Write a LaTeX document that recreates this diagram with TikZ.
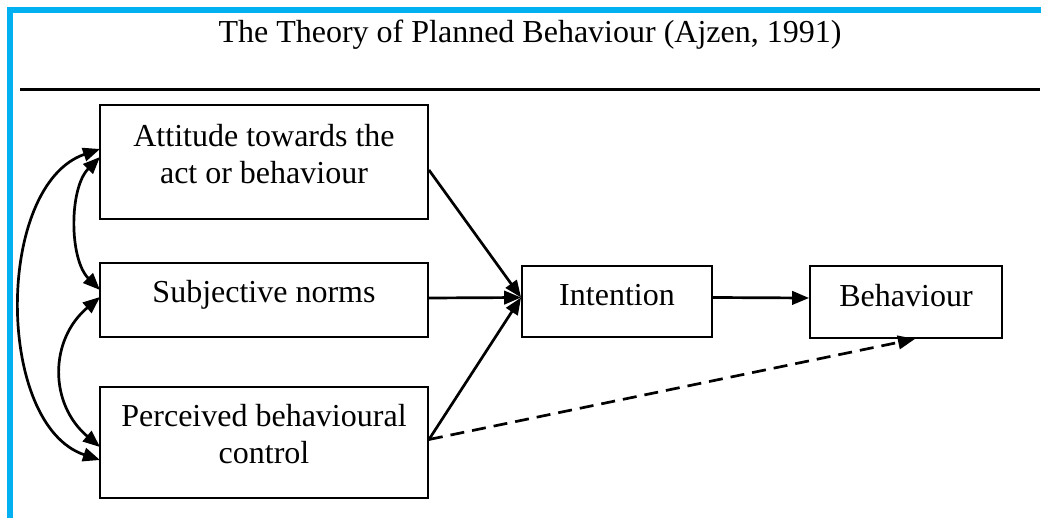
\documentclass[tikz,border=0pt]{standalone}
\usepackage{fontspec}
\setmainfont{Liberation Serif}
\usetikzlibrary{arrows.meta}
\definecolor{frameblue}{HTML}{00B0F0}
\begin{document}
\begin{tikzpicture}[x=1pt,y=-1pt,
  box/.style={draw,line width=1.9pt,inner sep=0pt},
  lbl/.style={align=center,font=\fontsize{32}{37}\selectfont,inner sep=0pt},
  tip/.style={Triangle[length=17pt,width=13.5pt]},
  link/.style={line width=2.7pt,-{Triangle[length=17pt,width=13.5pt]}},
  both/.style={line width=2.7pt,{Triangle[length=17pt,width=13.5pt]}-{Triangle[length=17pt,width=13.5pt]}}]
  \useasboundingbox (0,0) rectangle (1041,518);
  % frame along top and left edges
  \fill[frameblue] (7,7) rectangle (1041,13);
  \fill[frameblue] (7,7) rectangle (13,518);
  % heading and rule
  \node[lbl,anchor=base] (title) at (530,43) {The Theory of Planned Behaviour (Ajzen, 1991)};
  \draw[line width=2.6pt] (20,89.5) coordinate (ruleL) -- (1040,89.5) coordinate (ruleR);
  % boxes
  \node[box,minimum width=328pt,minimum height=114pt] (att) at (264,162) {};
  \node[box,minimum width=328pt,minimum height=74pt] (sub) at (264,300) {};
  \node[box,minimum width=328pt,minimum height=111pt] (per) at (264,442.5) {};
  \node[box,minimum width=190pt,minimum height=71pt] (int) at (617,301.5) {};
  \node[box,minimum width=192pt,minimum height=72pt] (beh) at (906,302) {};
  % box texts
  \node[lbl] (attT) at ([yshift=8pt]att.center) {Attitude towards the\\act or behaviour};
  \node[lbl] (subT) at ([yshift=5pt]sub.center) {Subjective norms};
  \node[lbl] (perT) at ([yshift=8pt]per.center) {Perceived behavioural\\control};
  \node[lbl] (intT) at ([yshift=6pt]int.center) {Intention};
  \node[lbl] (behT) at ([yshift=6pt]beh.center) {Behaviour};
  % connection points
  \coordinate (attOut) at ([yshift=-8pt]att.east);
  \coordinate (perOut) at ([yshift=3pt]per.east);
  \coordinate (intIn) at ([yshift=4pt]int.west);
  \coordinate (behIn) at ([xshift=9pt]beh.south);
  % paths into Intention and Behaviour
  \draw[link] (attOut) -- (intIn);
  \draw[link] ([yshift=2pt]sub.east) -- (intIn);
  \draw[link] (perOut) -- (intIn);
  \draw[link] ([yshift=4pt]int.east) -- ([yshift=4pt]beh.west);
  \draw[link,dash pattern=on 14pt off 8pt] (perOut) -- (behIn);
  % correlations between the three antecedents
  \coordinate (a1) at (100,149);
  \coordinate (a2) at (100,157);
  \coordinate (s1) at (100,290);
  \coordinate (s2) at (100,297);
  \coordinate (p1) at (100,447);
  \coordinate (p2) at (100,460);
  \draw[both] (a1) .. controls (-5,185) and (-5,425) .. (p2);
  \draw[both] (a2) .. controls (69,188) and (69,259) .. (s1);
  \draw[both] (s2) .. controls (49,340) and (49,404) .. (p1);
\end{tikzpicture}
\end{document}
